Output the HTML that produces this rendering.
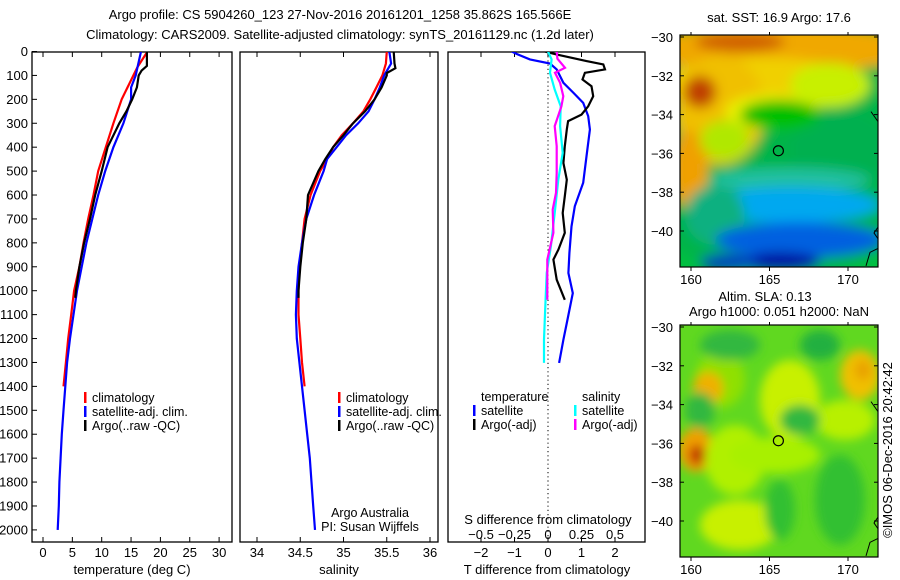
<!DOCTYPE html>
<html><head><meta charset="utf-8">
<style>
body{margin:0;background:#fff;}
svg{display:block;font-family:"Liberation Sans",sans-serif;}
text{fill:#000;}
</style></head>
<body>
<svg id="fig" width="900" height="580" viewBox="0 0 900 580">
<defs>
<clipPath id="cp1"><rect x="32" y="52" width="200" height="490"/></clipPath>
<clipPath id="cp2"><rect x="240" y="52" width="198" height="490"/></clipPath>
<clipPath id="cp3"><rect x="448" y="52" width="197" height="490"/></clipPath>
<clipPath id="cm1"><rect x="680" y="35" width="198" height="232"/></clipPath>
<clipPath id="cm2"><rect x="680" y="325" width="198" height="232"/></clipPath>
<filter id="bl" x="-50%" y="-50%" width="200%" height="200%"><feGaussianBlur stdDeviation="6"/></filter>
<filter id="bl2" x="-50%" y="-50%" width="200%" height="200%"><feGaussianBlur stdDeviation="5"/></filter>
</defs>
<text x="340" y="19" text-anchor="middle" font-size="13">Argo profile: CS 5904260_123 27-Nov-2016 20161201_1258 35.862S 165.566E</text>
<text x="340" y="39" text-anchor="middle" font-size="13">Climatology: CARS2009. Satellite-adjusted climatology: synTS_20161129.nc (1.2d later)</text>
<g id="g1"></g>
<g id="g2"></g>
<g id="g3"></g>
<g id="m1"></g>
<g id="m2"></g>
<text transform="translate(892,450) rotate(-90)" text-anchor="middle" font-size="13">©IMOS 06-Dec-2016 20:42:42</text>
</svg>
<script>
// ---- data ----
const climT_depth=[0,65,100,200,300,400,500,600,700,800,900,1000,1100,1200,1300,1400];
const climT_vals=[17.8,16.1,15.4,13.4,12.0,10.7,9.4,8.6,7.7,6.9,6.2,5.3,4.8,4.3,3.9,3.5];
const satT_depth=[0,100,150,200,300,400,500,600,700,800,900,1000,1100,1200,1300,1400,1500,1600,1700,1800,1900,2000];
const satT_vals=[16.7,15.8,15.0,15.0,13.7,12.0,10.6,9.4,8.4,7.4,6.6,5.8,5.2,4.6,4.1,3.8,3.5,3.2,3.0,2.8,2.7,2.5];
const argoT_depth=[0,60,80,100,150,200,250,300,400,500,600,700,800,900,1000,1030];
const argoT_vals=[17.7,17.7,16.8,16.3,16.0,15.2,14.2,13.0,11.0,10.0,8.9,8.0,7.0,6.2,5.6,5.5];
const climS_depth=[0,50,100,150,200,250,300,350,400,450,500,600,700,800,900,1000,1100,1200,1300,1400];
const climS_vals=[35.50,35.49,35.45,35.38,35.31,35.23,35.11,34.98,34.88,34.81,34.73,34.62,34.55,34.52,34.49,34.48,34.48,34.50,34.52,34.55];
const satS_depth=[0,50,100,150,200,250,300,350,400,450,500,600,700,800,900,1000,1100,1200,1300,1400,1500,1600,1700,1800,1900,2000];
const satS_vals=[35.53,35.55,35.47,35.42,35.36,35.29,35.17,35.03,34.92,34.81,34.77,34.66,34.57,34.52,34.48,34.46,34.45,34.46,34.49,34.52,34.55,34.58,34.61,34.63,34.65,34.67];
const argoS_depth=[0,50,70,90,100,150,200,250,300,350,400,450,500,600,700,800,900,1000,1030];
const argoS_vals=[35.58,35.59,35.60,35.50,35.50,35.44,35.36,35.25,35.11,35.00,34.88,34.79,34.71,34.59,34.57,34.53,34.50,34.48,34.48];
const dT_sat_depth=[0,10,33,50,75,131,173,215,270,326,438,549,647,731,843,926,1010,1135,1205,1302];
const dT_sat_vals=[-1.08,-0.94,-0.54,0.06,0.26,0.46,0.76,1.05,1.2,1.25,1.15,1.05,0.8,0.7,0.64,0.61,0.74,0.56,0.46,0.33];
const dT_argo_depth=[0,12,40,54,75,89,117,145,187,229,264,291,326,396,466,536,605,675,758,828,870,954,1038];
const dT_argo_vals=[-0.09,0.25,1.15,1.65,1.7,1.1,1.03,1.3,1.35,1.2,1.0,0.6,0.56,0.5,0.46,0.56,0.5,0.44,0.5,0.31,0.16,0.26,0.5];
const dS_sat_depth=[0,33,89,159,229,312,424,536,675,814,926,1066,1205,1302];
const dS_sat_vals=[0,0.027,0.015,0.05,0.095,0.09,0.11,0.077,0.05,0.022,-0.01,-0.02,-0.03,-0.03];
const dS_argo_depth=[0,30,68,89,131,187,229,312,396,508,591,661,758,870,954,1038];
const dS_argo_vals=[0.065,0.07,0.127,0.052,0.09,0.114,0.1,0.05,0.065,0.065,0.06,0.035,0.04,-0.005,-0.005,-0.005];
const depthTicks=[0,100,200,300,400,500,600,700,800,900,1000,1100,1200,1300,1400,1500,1600,1700,1800,1900,2000];
const tempTicks=[0,5,10,15,20,25,30];
const salTicks=[34,34.5,35,35.5,36];
const tdTicks=[-2,-1,0,1,2];
const sdTicks=[-0.5,-0.25,0,0.25,0.5];
const lonTicks=[160,165,170];
const latTicks=[-30,-32,-34,-36,-38,-40];

// ---- scales ----
const Y0=52,Y1=542;
const yD=d=>51.5+d*0.2392;
const xT=t=>43+t*5.87;
const xS=s=>257+(s-34)*86.5;
const xTd=t=>548+t*33.5;
const xSd=s=>548+s*134;
const mx=lon=>691+(lon-160)*15.7;
const my1=lat=>37+(-30-lat)*19.4;
const my2=lat=>327+(-30-lat)*19.4;

const NS='http://www.w3.org/2000/svg';
function el(parent,tag,attrs,txt){const e=document.createElementNS(NS,tag);for(const k in attrs)e.setAttribute(k,attrs[k]);if(txt!==undefined)e.textContent=txt;parent.appendChild(e);return e;}
function line(g,xs,depths,vals,col,name,clip){
  const pts=depths.map((d,i)=>xs(vals[i]).toFixed(1)+','+yD(d).toFixed(1)).join(' ');
  const p=el(g,'polyline',{points:pts,fill:'none',stroke:col,'stroke-width':2.2,'clip-path':'url(#'+clip+')'});
  
  
}
function frame(g,x0,x1,name){
  const r=el(g,'rect',{x:x0,y:Y0,width:x1-x0,height:Y1-Y0,fill:'none',stroke:'#000','stroke-width':1.3});
  
  
}
function xticks(g,ticks,xs,y,name){
  ticks.forEach(t=>{
    el(g,'line',{x1:xs(t),x2:xs(t),y1:Y0,y2:Y0+5,stroke:'#000'});
    el(g,'line',{x1:xs(t),x2:xs(t),y1:Y1,y2:Y1-5,stroke:'#000'});
    const tx=el(g,'text',{x:xs(t),y:y,'text-anchor':'middle','font-size':13},String(t).replace('-','\u2212'));
    
    
  });
}
function legend(g,x,y,col,label){
  el(g,'rect',{x:x,y:y-10,width:2.5,height:11,fill:col});
  const t=el(g,'text',{x:x+8,y:y,'font-size':12.5},label);
  
  
}

// ---- panel 1 ----
const g1=document.getElementById('g1');
frame(g1,32,232,'temperature-axes-frame');
depthTicks.forEach(d=>{
  el(g1,'line',{x1:32,x2:37,y1:yD(d),y2:yD(d),stroke:'#000'});
  const t=el(g1,'text',{x:28,y:yD(d)+4.5,'text-anchor':'end','font-size':13},String(d));
  
  
});
xticks(g1,tempTicks,xT,557,'temperature-tick-label');
el(g1,'text',{x:132,y:574,'text-anchor':'middle','font-size':13,},'temperature (deg C)');
line(g1,xT,climT_depth,climT_vals,'#ff0000','climatology-temperature-line','cp1');
line(g1,xT,satT_depth,satT_vals,'#0000ff','satellite-temperature-line','cp1');
line(g1,xT,argoT_depth,argoT_vals,'#000000','argo-temperature-line','cp1');
legend(g1,84,402,'#ff0000','climatology');
legend(g1,84,416,'#0000ff','satellite-adj. clim.');
legend(g1,84,430,'#000000','Argo(..raw -QC)');

// ---- panel 2 ----
const g2=document.getElementById('g2');
frame(g2,240,438,'salinity-axes-frame');
xticks(g2,salTicks,xS,557,'salinity-tick-label');
el(g2,'text',{x:339,y:574,'text-anchor':'middle','font-size':13,},'salinity');
line(g2,xS,climS_depth,climS_vals,'#ff0000','climatology-salinity-line','cp2');
line(g2,xS,satS_depth,satS_vals,'#0000ff','satellite-salinity-line','cp2');
line(g2,xS,argoS_depth,argoS_vals,'#000000','argo-salinity-line','cp2');
legend(g2,338,402,'#ff0000','climatology');
legend(g2,338,416,'#0000ff','satellite-adj. clim.');
legend(g2,338,430,'#000000','Argo(..raw -QC)');
el(g2,'text',{x:370,y:517,'text-anchor':'middle','font-size':12.5,},'Argo Australia');
el(g2,'text',{x:370,y:531,'text-anchor':'middle','font-size':12.5,},'PI: Susan Wijffels');

// ---- panel 3 ----
const g3=document.getElementById('g3');
frame(g3,448,645,'difference-axes-frame');
el(g3,'line',{x1:548,x2:548,y1:Y0,y2:Y1,stroke:'#000','stroke-dasharray':'1.2 3',});
xticks(g3,tdTicks,xTd,557,'t-difference-tick-label');
sdTicks.forEach(s=>{
  const t=el(g3,'text',{x:xSd(s),y:539,'text-anchor':'middle','font-size':13},String(s).replace('-','\u2212'));
  
  
});
el(g3,'text',{x:548,y:524,'text-anchor':'middle','font-size':13,},'S difference from climatology');
el(g3,'text',{x:547,y:574,'text-anchor':'middle','font-size':13,},'T difference from climatology');
line(g3,xTd,dT_sat_depth,dT_sat_vals,'#0000ff','satellite-t-difference-line','cp3');
line(g3,xTd,dT_argo_depth,dT_argo_vals,'#000000','argo-t-difference-line','cp3');
line(g3,xSd,dS_sat_depth,dS_sat_vals,'#00ffff','satellite-s-difference-line','cp3');
line(g3,xSd,dS_argo_depth,dS_argo_vals,'#ff00ff','argo-s-difference-line','cp3');
el(g3,'text',{x:481,y:401,'font-size':12.5,},'temperature');
el(g3,'text',{x:582,y:401,'font-size':12.5,},'salinity');
legend(g3,473,415,'#0000ff','satellite');
legend(g3,473,429,'#000000','Argo(-adj)');
legend(g3,574,415,'#00ffff','satellite');
legend(g3,574,429,'#ff00ff','Argo(-adj)');

// ---- maps ----
function mapAxes(g,my,y0,labY,name){
  const r=el(g,'rect',{x:680,y:y0,width:198,height:232,fill:'none',stroke:'#000','stroke-width':1.2});
  
  
  latTicks.forEach(l=>{
    el(g,'line',{x1:680,x2:684,y1:my(l),y2:my(l),stroke:'#000'});
    el(g,'line',{x1:878,x2:874,y1:my(l),y2:my(l),stroke:'#000'});
    const t=el(g,'text',{x:673,y:my(l)+5,'text-anchor':'end','font-size':13},String(l).replace('-','\u2212'));
    
    
  });
  lonTicks.forEach(l=>{
    el(g,'line',{x1:mx(l),x2:mx(l),y1:y0,y2:y0-3,stroke:'#000'});
    el(g,'line',{x1:mx(l),x2:mx(l),y1:y0+232,y2:y0+236,stroke:'#000'});
    const t=el(g,'text',{x:mx(l),y:labY,'text-anchor':'middle','font-size':13},String(l));
    
    
  });
  el(g,'path',{d:`M871 ${my(-34)-3} L878 ${my(-34)+7} M878 ${my(-39.8)} L874 ${my(-40.1)} L878 ${my(-40.4)} M878 ${my(-40.9)} L870 ${my(-41.1)} L866 ${my(-41.8)}`,fill:'none',stroke:'#000','stroke-width':1});
  const c=el(g,'circle',{cx:mx(165.566),cy:my(-35.862),r:5,fill:'none',stroke:'#000','stroke-width':1.2});
  
  
}
function blobs(g,clip,arr,filt){
  const gg=el(g,'g',{'clip-path':'url(#'+clip+')'});
  const inner=el(gg,'g',{filter:'url(#'+filt+')'});
  arr.forEach(b=>el(inner,'ellipse',{cx:b[0],cy:b[1],rx:b[2],ry:b[3],fill:b[4]}));
  return gg;
}
const m1=document.getElementById('m1');
el(m1,'text',{x:779,y:22,'text-anchor':'middle','font-size':13,},'sat. SST: 16.9 Argo: 17.6');
const g=blobs(m1,'cm1',[
 [780,150,160,130,'#00b448'],
 [780,48,140,25,'#f0a800'],
 [760,85,100,28,'#f0d000'],
 [720,110,45,55,'#f0c000'],
 [690,170,18,40,'#f0a000'],
 [830,85,40,22,'#c8f000'],
 [770,112,45,18,'#e8f000'],
 [725,140,25,20,'#b0e800'],
 [700,92,16,16,'#c04000'],
 [740,42,45,10,'#d06000'],
 [840,150,50,40,'#00b050'],
 [780,115,40,15,'#00c000'],
 [790,180,80,12,'#20c0a0'],
 [790,205,90,18,'#00a8f0'],
 [715,215,30,30,'#10b080'],
 [800,240,85,18,'#0060e0'],
 [780,262,40,10,'#0010a0'],
 [730,262,30,8,'#0030c0']
],'bl');
g.insertBefore(el(g,'rect',{x:680,y:35,width:198,height:232,fill:'#00c040'}),g.firstChild);
mapAxes(m1,my1,35,284,'sst-map');

const m2=document.getElementById('m2');
el(m2,'text',{x:765,y:301,'text-anchor':'middle','font-size':13,},'Altim. SLA: 0.13');
el(m2,'text',{x:779,y:316,'text-anchor':'middle','font-size':13,},'Argo h1000: 0.051 h2000: NaN');
const gB=blobs(m2,'cm2',[
 [720,380,25,28,'#90e000'],
 [708,388,15,16,'#f0b000'],
 [696,450,18,22,'#f0a000'],
 [697,455,8,10,'#c03000'],
 [735,460,30,35,'#b0f000'],
 [790,400,30,40,'#c8f000'],
 [775,455,45,18,'#a8f000'],
 [860,375,20,25,'#f0c000'],
 [863,370,8,10,'#e8a000'],
 [845,420,30,20,'#b8f000'],
 [740,525,40,25,'#c8f000'],
 [820,345,20,15,'#20b040'],
 [730,345,30,15,'#30b840'],
 [800,420,20,15,'#30b840'],
 [700,410,15,18,'#30b840'],
 [840,500,25,45,'#30c030'],
 [780,510,15,30,'#30c030']
],'bl2');
gB.insertBefore(el(gB,'rect',{x:680,y:325,width:198,height:232,fill:'#60d820'}),gB.firstChild);
mapAxes(m2,my2,325,574,'sla-map');
</script>
</body></html>
